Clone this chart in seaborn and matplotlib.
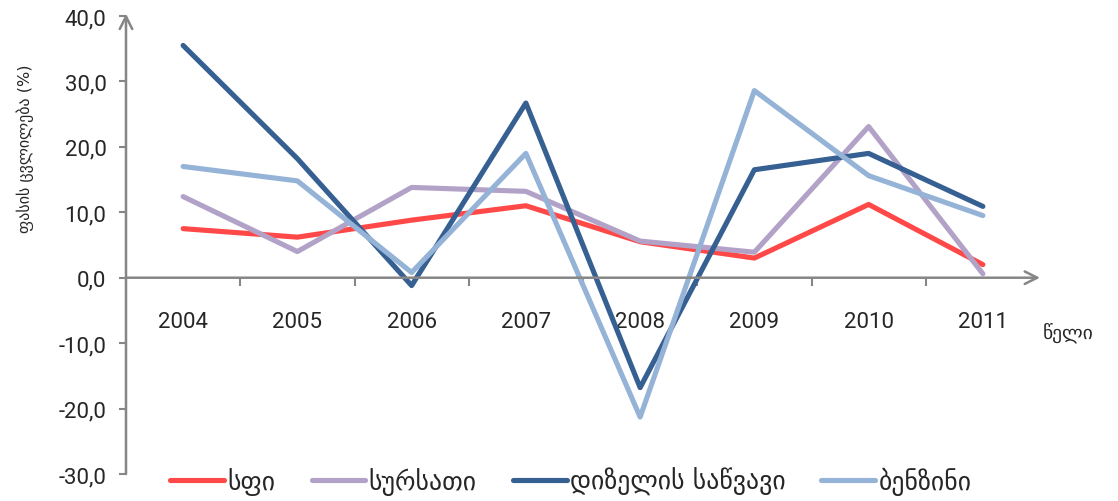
import matplotlib
matplotlib.use("Agg")
import matplotlib.pyplot as plt
import seaborn as sns
import pandas as pd
from matplotlib.ticker import FixedLocator, FuncFormatter

years = [2004, 2005, 2006, 2007, 2008, 2009, 2010, 2011]
series_names = ["სფი", "სურსათი", "დიზელის საწვავი", "ბენზინი"]
cpi = [7.5, 6.2, 8.8, 11.0, 5.5, 3.0, 11.2, 2.0]
food = [12.4, 4.0, 13.8, 13.2, 5.6, 3.9, 23.1, 0.6]
diesel = [35.5, 18.2, -1.2, 26.7, -16.8, 16.5, 19.0, 10.9]
petrol = [17.0, 14.8, 0.8, 19.0, -21.3, 28.6, 15.6, 9.5]
colors = ["#FF4848", "#B3A2C7", "#376092", "#95B3D7"]
y_label = "ფასის ცვლილება (%)"
x_label = "წელი"

df = pd.DataFrame({
    "year": years * 4,
    "value": cpi + food + diesel + petrol,
    "series": sum([[n] * len(years) for n in series_names], []),
})

sns.set_style("white")
plt.rcParams["font.family"] = ["Roboto", "DejaVu Sans"]

fig = plt.figure(figsize=(11.18, 5.02), dpi=100)
ax = fig.add_axes([126 / 1118, 1 - 475 / 502, (1040 - 126) / 1118, (475 - 17) / 502])

sns.lineplot(data=df, x="year", y="value", hue="series", hue_order=series_names,
             palette=colors, linewidth=3.7, ax=ax, legend=True)

ax.set_xlim(2003.5, 2011.5)
ax.set_ylim(-30, 40)
grey = "#868686"
for s in ["top", "right", "left", "bottom"]:
    ax.spines[s].set_visible(False)
ax.spines["bottom"].set_position(("data", 0))

ax.xaxis.set_major_locator(FixedLocator([y + 0.5 for y in years[:-1]]))
ax.xaxis.set_major_formatter(FuncFormatter(lambda v, p: ""))
ax.xaxis.set_minor_locator(FixedLocator(years))
ax.xaxis.set_minor_formatter(FuncFormatter(lambda v, p: str(int(round(v)))))
ax.tick_params(axis="x", which="major", direction="out", length=6, width=1.5, color=grey, bottom=True)
ax.tick_params(axis="x", which="minor", length=0, pad=24, labelsize=16, bottom=True)

ax.set_yticks(range(-30, 41, 10))
ax.yaxis.set_major_formatter(FuncFormatter(lambda v, p: f"{v:.1f}".replace(".", ",")))
ax.tick_params(axis="y", direction="out", length=5, width=1.5, color=grey, left=True, pad=9, labelsize=16)

ax.set_xlabel("")
ax.set_ylabel("")

# axis arrows
ax.annotate("", xy=(0, 1.005), xytext=(0, 0), xycoords="axes fraction",
            arrowprops=dict(arrowstyle="->,head_length=0.9,head_width=0.45", color=grey, lw=1.8,
                            shrinkA=0, shrinkB=0), annotation_clip=False)
ax.annotate("", xy=(1.0, 0), xytext=(0, 0), xycoords=("axes fraction", "data"),
            arrowprops=dict(arrowstyle="->,head_length=0.9,head_width=0.45", color=grey, lw=1.8,
                            shrinkA=0, shrinkB=0), annotation_clip=False)

fig.text(25 / 1118, 1 - 149 / 502, y_label, rotation=90, ha="center", va="center",
         fontsize=11.5, family=["DejaVu Sans"])
fig.text(1068 / 1118, 1 - 333 / 502, x_label, ha="center", va="center",
         fontsize=14, family=["DejaVu Sans"])

handles, labels = ax.get_legend_handles_labels()
ax.get_legend().remove()
fig.legend(handles, labels, loc="center", bbox_to_anchor=(571 / 1118, 1 - 482 / 502), ncol=4,
           frameon=False, handlelength=2.1, columnspacing=1.4, handletextpad=0.12,
           prop={"family": ["DejaVu Sans"], "size": 18.5})

fig.savefig("out.png", dpi=100)
